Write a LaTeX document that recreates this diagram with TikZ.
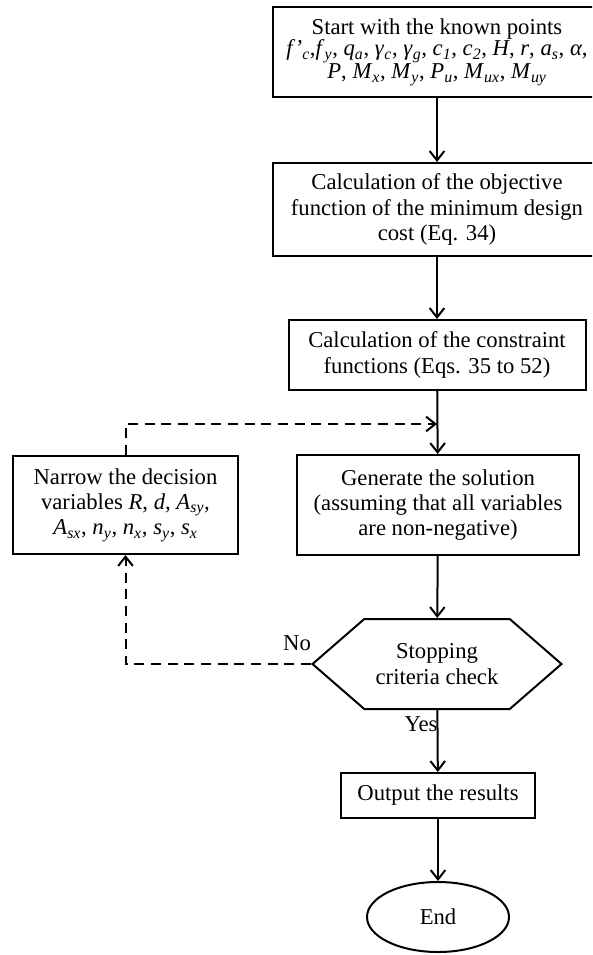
\documentclass[tikz,border=0pt]{standalone}
\usepackage{fontspec}
\setmainfont{Liberation Serif}
\usetikzlibrary{arrows.meta,shapes.symbols,shapes.geometric}
\newcommand{\vsub}[2]{\textit{#1}\textsubscript{\textit{#2}}}

\begin{document}
\begin{tikzpicture}[x=0.75pt,y=-0.75pt,
    line width=1.5pt,
    >={Straight Barb[length=7pt,width=11pt]},
    txt/.style={font=\fontsize{17}{19}\selectfont},
    box/.style={txt,draw,rectangle,align=center,inner sep=2pt},
    flow/.style={->},
    loopback/.style={->,dash pattern=on 7.5pt off 5pt}]
  \clip (0,0) rectangle (592,955);
  \useasboundingbox (0,0) rectangle (592,955);
  % main column
  \node[box,minimum width=246pt,minimum height=67.5pt,font=\fontsize{17}{16}\selectfont] (start) at (437,52)
    {Start with the known points\\
     \textit{f'}\textsubscript{\textit{c}},\vsub{f}{y}, \vsub{q}{a}, \vsub{γ}{c}, \vsub{γ}{g}, \vsub{c}{1}, \vsub{c}{2}, \textit{H}, \textit{r}, \vsub{a}{s}, \textit{α},\\
     \textit{P}, \vsub{M}{x}, \vsub{M}{y}, \vsub{P}{u}, \vsub{M}{ux}, \vsub{M}{uy}};
  \node[box,minimum width=246pt,minimum height=69.75pt] (objfn) at (437,209.5)
    {Calculation of the objective\\ function of the minimum design\\ cost (Eq. 34)};
  \node[box,minimum width=222.75pt,minimum height=52.5pt] (constr) at (437,355)
    {Calculation of the constraint\\ functions (Eqs. 35 to 52)};
  \node[box,minimum width=211.5pt,minimum height=75pt] (gen) at (438,505)
    {Generate the solution\\ (assuming that all variables\\ are non-negative)};
  \node[box,minimum width=168.75pt,minimum height=73.5pt] (narrow) at (125.5,505)
    {Narrow the decision\\ variables \textit{R}, \textit{d}, \vsub{A}{sy},\\ \vsub{A}{sx}, \vsub{n}{y}, \vsub{n}{x}, \vsub{s}{y}, \vsub{s}{x}};
  \node[box,signal,signal to=east and west,signal pointer angle=82,
    minimum width=186.75pt,minimum height=67.5pt] (stop) at (437,664)
    {Stopping\\ criteria check};
  \node[box,minimum width=145.5pt,minimum height=33.75pt] (output) at (438,795.5)
    {Output the results};
  \node[box,ellipse,minimum width=106.5pt,minimum height=52.5pt] (finish) at (438,917) {End};
  \coordinate (merge) at (437,424);
  % connectors
  \draw[flow] (start) -- (objfn);
  \draw[flow] (objfn) -- (constr);
  \draw[flow] (constr) -- (gen);
  \draw[flow] (gen) -- (stop);
  \draw[flow] (stop) -- (output);
  \draw[flow] (output) -- (finish);
  \draw[loopback] (narrow.north) |- (merge);
  \draw[loopback] (stop.west) -| (narrow.south);
  \node[txt] (no) at (297,643) {No};
  \node[txt,anchor=east] (yes) at (443,724) {Yes};
\end{tikzpicture}
\end{document}
